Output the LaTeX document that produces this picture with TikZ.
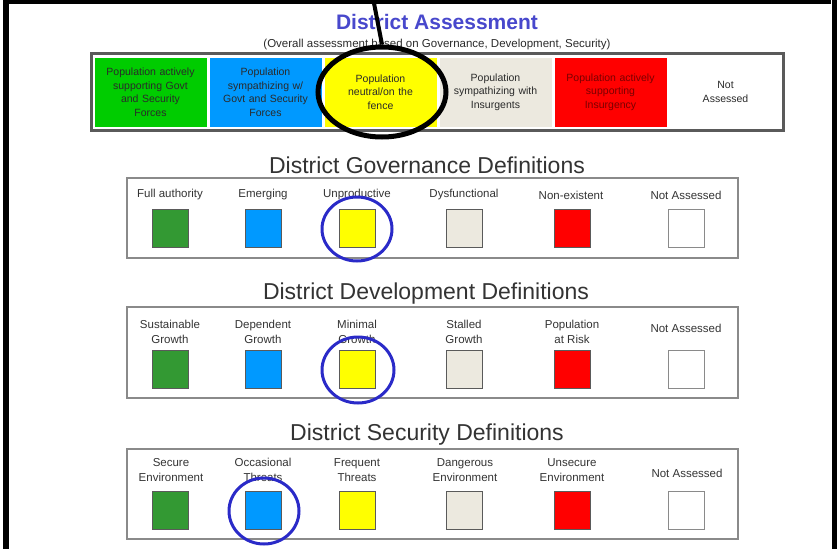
\documentclass[tikz,border=0pt]{standalone}
\usepackage{fontspec}
\setmainfont{Liberation Sans}
\usepackage{tikz}
\usetikzlibrary{shapes.geometric}
\usepackage{xcolor}
\definecolor{assessTitle}{HTML}{4848CC}
\definecolor{assessFrame}{HTML}{5A5A5A}
\definecolor{assessText}{HTML}{2A2A2A}
\definecolor{cellGreen}{HTML}{00CC00}
\definecolor{cellRedText}{HTML}{7A0000}
\definecolor{defGreen}{HTML}{339933}
\definecolor{defBlue}{HTML}{0099FF}
\definecolor{defYellow}{HTML}{FFFF00}
\definecolor{defBeige}{HTML}{ECE9DF}
\definecolor{defRed}{HTML}{FF0000}
\definecolor{defText}{HTML}{333333}
\definecolor{defBorder}{HTML}{8A8A8A}
\definecolor{ringBlue}{HTML}{2A2AC8}

\begin{document}
\begin{tikzpicture}[x=1pt, y=-1pt,
            cell/.style={
              rectangle, minimum width=112pt, minimum height=69pt,
              inner sep=1pt, text width=108pt, align=center,
              font=\fontsize{10.5}{13.5}\selectfont, text=assessText
            },
            swatch/.style={
              rectangle, draw=assessFrame, line width=1pt,
              minimum width=36pt, minimum height=38pt, inner sep=0pt
            },
            deflabel/.style={
              align=center, inner sep=0pt, text=defText,
              font=\fontsize{11.5}{14.5}\selectfont
            },
            deftitle/.style={
              text=defText, font=\fontsize{23}{27}\selectfont
            },
            defbox/.style={draw=defBorder, line width=1.5pt},
            ring/.style={
              ellipse, draw=ringBlue, line width=3pt,
              minimum width=70pt, minimum height=64pt
            }
          ]
          \useasboundingbox (0,0) rectangle (837,549);
          % Marco negro de la diapositiva
          \fill[black] (3,0) rectangle (9,549);
          \fill[black] (3,0) rectangle (831,3.5);
          \fill[black] (832,0) rectangle (837,549);

          % Leyenda general
          \node[font=\fontsize{21}{25}\selectfont\bfseries, text=assessTitle]
            (title) at (437,22) {District Assessment};
          \node[font=\fontsize{11.5}{13}\selectfont, text=assessText]
            (subtitle) at (437,45) {(Overall assessment based on Governance, Development, Security)};
          \draw[assessFrame, line width=3pt] (91,53) rectangle (783,130);
          \node[cell, fill=cellGreen] (c1) at (150.5,92) {Population actively\\supporting Govt\\and Security\\Forces};
          \node[cell, fill=defBlue] (c2) at (265.5,92) {Population\\sympathizing w/\\Govt and Security\\Forces};
          \node[cell, fill=defYellow] (c3) at (380.5,92) {Population\\neutral/on the\\fence};
          \node[cell, fill=defBeige] (c4) at (495.5,92) {Population\\sympathizing with\\Insurgents};
          \node[cell, fill=defRed, text=cellRedText] (c5) at (610.5,92) {Population actively\\supporting\\Insurgency};
          \node[cell, fill=white] (c6) at (725.5,92) {Not\\Assessed};

          % Resalte negro y puntero
          \node[ellipse, draw=black, line width=5pt,
            minimum width=128pt, minimum height=90pt] (focus) at (382,92) {};
          \coordinate (pointer) at (373,-2);
          \draw[black, line width=4pt] (pointer) -- (focus.north);

          % Gobernanza
          \node[deftitle] (govtitle) at (427,165) {District Governance Definitions};
          \draw[defbox] (127,178) rectangle (738,258);
          \node[deflabel] (gov1t) at (170,195) {Full authority};
          \node[deflabel] (gov2t) at (263,195) {Emerging};
          \node[deflabel] (gov3t) at (357,195) {Unproductive};
          \node[deflabel] (gov4t) at (464,195) {Dysfunctional};
          \node[deflabel] (gov5t) at (571,195) {Non-existent};
          \node[deflabel] (gov6t) at (686,195) {Not Assessed};
          \node[swatch, fill=defGreen] (gov1) at (170,228) {};
          \node[swatch, fill=defBlue] (gov2) at (263,228) {};
          \node[swatch, fill=defYellow] (gov3) at (357,228) {};
          \node[swatch, fill=defBeige] (gov4) at (464,228) {};
          \node[swatch, fill=defRed] (gov5) at (572,228) {};
          \node[swatch, fill=white, draw=defBorder] (gov6) at (686,228) {};
          \node[ring] (govring) at (357,229) {};

          % Desarrollo
          \node[deftitle] (devtitle) at (426,294) {District Development Definitions};
          \draw[defbox] (127,307) rectangle (738,398);
          \node[deflabel] (dev1t) at (170,332) {Sustainable\\Growth};
          \node[deflabel] (dev2t) at (263,332) {Dependent\\Growth};
          \node[deflabel] (dev3t) at (357,332) {Minimal\\Growth};
          \node[deflabel] (dev4t) at (464,332) {Stalled\\Growth};
          \node[deflabel] (dev5t) at (572,332) {Population\\at Risk};
          \node[deflabel] (dev6t) at (686,328) {Not Assessed};
          \node[swatch, fill=defGreen] (dev1) at (170,369) {};
          \node[swatch, fill=defBlue] (dev2) at (263,369) {};
          \node[swatch, fill=defYellow] (dev3) at (357,369) {};
          \node[swatch, fill=defBeige] (dev4) at (464,369) {};
          \node[swatch, fill=defRed] (dev5) at (572,369) {};
          \node[swatch, fill=white, draw=defBorder] (dev6) at (686,369) {};
          \node[ring, minimum width=72pt, minimum height=66pt] (devring) at (358,370) {};

          % Seguridad
          \node[deftitle] (sectitle) at (427,435) {District Security Definitions};
          \draw[defbox] (127,449) rectangle (738,539);
          \node[deflabel] (sec1t) at (171,470) {Secure\\Environment};
          \node[deflabel] (sec2t) at (263,470) {Occasional\\Threats};
          \node[deflabel] (sec3t) at (357,470) {Frequent\\Threats};
          \node[deflabel] (sec4t) at (465,470) {Dangerous\\Environment};
          \node[deflabel] (sec5t) at (572,470) {Unsecure\\Environment};
          \node[deflabel] (sec6t) at (687,473) {Not Assessed};
          \node[swatch, fill=defGreen] (sec1) at (170,510) {};
          \node[swatch, fill=defBlue] (sec2) at (263,510) {};
          \node[swatch, fill=defYellow] (sec3) at (357,510) {};
          \node[swatch, fill=defBeige] (sec4) at (464,510) {};
          \node[swatch, fill=defRed] (sec5) at (572,510) {};
          \node[swatch, fill=white, draw=defBorder] (sec6) at (686,510) {};
          \node[ring, minimum height=66pt] (secring) at (264,511) {};
        \end{tikzpicture}
\end{document}
